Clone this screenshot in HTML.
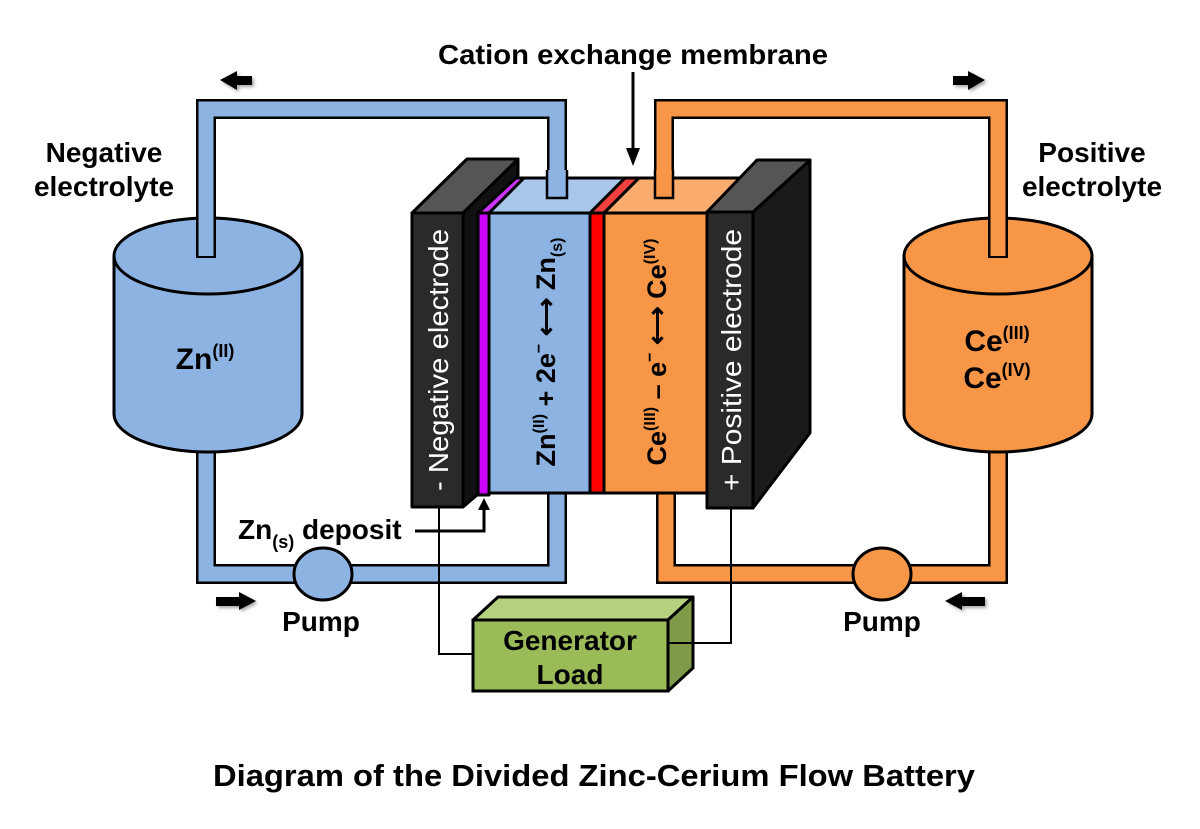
<!DOCTYPE html>
<html><head><meta charset="utf-8"><style>
html,body{margin:0;padding:0;background:#fff;}
svg{display:block;}
text{font-family:"Liberation Sans",sans-serif;}
</style></head><body>
<svg width="1200" height="829" viewBox="0 0 1200 829" xmlns="http://www.w3.org/2000/svg">
<defs>
<filter id="sh" x="-20%" y="-20%" width="150%" height="150%"><feDropShadow dx="2" dy="2" stdDeviation="1.5" flood-opacity="0.35"/></filter>
</defs>
<rect width="1200" height="829" fill="#fff"/>

<g fill="none" stroke-linejoin="miter" stroke-linecap="butt">
<path d="M206 258 V109 H557 V198" stroke="#000" stroke-width="20"/>
<path d="M206 258 V109 H557 V198" stroke="#8db3e2" stroke-width="15"/>
<path d="M206 420 V574 H557 V490" stroke="#000" stroke-width="20"/>
<path d="M206 420 V574 H557 V490" stroke="#8db3e2" stroke-width="15"/>
<path d="M998 258 V109 H664 V198" stroke="#000" stroke-width="20"/>
<path d="M998 258 V109 H664 V198" stroke="#f79646" stroke-width="15"/>
<path d="M998 420 V574 H666 V490" stroke="#000" stroke-width="20"/>
<path d="M998 420 V574 H666 V490" stroke="#f79646" stroke-width="15"/>
</g>

<path d="M114 256 V414 A94 38 0 0 0 302 414 V256" fill="#8db3e2" stroke="#000" stroke-width="3"/>
<ellipse cx="208" cy="256" rx="94" ry="38" fill="#8db3e2" stroke="#000" stroke-width="3"/>
<path d="M206 218 V258" stroke="#000" stroke-width="20"/>
<path d="M206 216 V256" stroke="#8db3e2" stroke-width="15"/>
<path d="M904 256 V414 A94 38 0 0 0 1092 414 V256" fill="#f79646" stroke="#000" stroke-width="3"/>
<ellipse cx="998" cy="256" rx="94" ry="38" fill="#f79646" stroke="#000" stroke-width="3"/>
<path d="M998 218 V258" stroke="#000" stroke-width="20"/>
<path d="M998 216 V256" stroke="#f79646" stroke-width="15"/>

<ellipse cx="323" cy="574" rx="29" ry="26" fill="#8db3e2" stroke="#000" stroke-width="3"/>
<ellipse cx="882" cy="574" rx="29" ry="26" fill="#f79646" stroke="#000" stroke-width="3"/>

<path d="M439 500 V654 H475" fill="none" stroke="#000" stroke-width="2"/>
<path d="M731 500 V643 H676" fill="none" stroke="#000" stroke-width="2"/>

<polygon points="473,620 498,597 693,597 668,620" fill="#b5d07f" stroke="#000" stroke-width="3" stroke-linejoin="round"/>
<polygon points="668,620 693,597 693,668 668,691" fill="#7f9a48" stroke="#000" stroke-width="3" stroke-linejoin="round"/>
<rect x="473" y="620" width="195" height="71" fill="#9bbb59" stroke="#000" stroke-width="3"/>
<line x1="668" y1="643" x2="693" y2="643" stroke="#000" stroke-width="2"/>
<text x="570" y="650" font-size="28" font-weight="bold" text-anchor="middle">Generator</text>
<text x="570" y="684" font-size="28" font-weight="bold" text-anchor="middle">Load</text>

<g stroke="#000" stroke-width="3" stroke-linejoin="round">
<polygon points="463,213 518,159 518,460 463,507" fill="#111"/>
<polygon points="412,213 463,213 518,159 467,159" fill="#555"/>
<rect x="412" y="213" width="51" height="294" fill="#2a2a2a"/>
<polygon points="478,213 489,213 527,178 516,178" fill="#cc33ff"/>
<rect x="478" y="213" width="11" height="282" fill="#cc00ff"/>
<polygon points="489,213 590,213 625,178 524,178" fill="#a8c6ea"/>
<rect x="489" y="213" width="101" height="280" fill="#8db3e2"/>
<polygon points="590,213 604,213 639,178 625,178" fill="#f04040"/>
<rect x="590" y="213" width="14" height="280" fill="#ff0000"/>
<polygon points="604,213 707,213 742,178 639,178" fill="#f9ac6e"/>
<rect x="604" y="213" width="103" height="280" fill="#f79646"/>
<polygon points="753,212 810,160 810,433 753,508" fill="#1a1a1a"/>
<polygon points="707,212 753,212 810,160 757,160" fill="#555"/>
<rect x="707" y="212" width="46" height="296" fill="#2a2a2a"/>
</g>
<rect x="548" y="170" width="18" height="28" fill="#8db3e2"/>
<path d="M547 170 V198 H567 V170" fill="none" stroke="#000" stroke-width="2.5"/>
<rect x="655" y="170" width="18" height="28" fill="#f79646"/>
<path d="M655 170 V198 H673 V170" fill="none" stroke="#000" stroke-width="2.5"/>

<text transform="translate(448,360) rotate(-90)" font-size="28" fill="#fff" text-anchor="middle" textLength="262" lengthAdjust="spacingAndGlyphs">- Negative electrode</text>
<text transform="translate(741,360) rotate(-90)" font-size="28" fill="#fff" text-anchor="middle" textLength="262" lengthAdjust="spacingAndGlyphs">+ Positive electrode</text>
<text transform="translate(555,352) rotate(-90)" font-size="27" font-weight="bold" text-anchor="middle">Zn<tspan font-size="16" dy="-11">(II)</tspan><tspan dy="11"> + 2e</tspan><tspan font-size="16" dy="-11">−</tspan><tspan dy="11"> ⟷ Zn</tspan><tspan font-size="16" dy="7">(s)</tspan></text>
<text transform="translate(666,352) rotate(-90)" font-size="27" font-weight="bold" text-anchor="middle">Ce<tspan font-size="16" dy="-11">(III)</tspan><tspan dy="11"> – e</tspan><tspan font-size="16" dy="-11">−</tspan><tspan dy="11"> ⟷ Ce</tspan><tspan font-size="16" dy="-11">(IV)</tspan></text>

<path d="M415 531 H484 V508" fill="none" stroke="#000" stroke-width="3"/>
<polygon points="478,510 490,510 484,498" fill="#000"/>

<line x1="633" y1="72" x2="633" y2="150" stroke="#000" stroke-width="3"/>
<polygon points="626,148 640,148 633,166" fill="#000"/>

<g fill="#000" filter="url(#sh)">
<polygon points="220,80 237,71 237,76 252,76 252,85 237,85 237,90"/>
<polygon points="985,80 968,71 968,76 953,76 953,85 968,85 968,90"/>
<polygon points="256,601 239,592 239,597 216,597 216,606 239,606 239,610"/>
<polygon points="945,601 962,592 962,597 985,597 985,606 962,606 962,610"/>
</g>

<g font-size="28" font-weight="bold" text-anchor="middle">
<text x="633" y="64" textLength="390" lengthAdjust="spacingAndGlyphs">Cation exchange membrane</text>
<text x="104" y="162">Negative</text>
<text x="104" y="196">electrolyte</text>
<text x="1092" y="162">Positive</text>
<text x="1092" y="196">electrolyte</text>
<text x="321" y="631">Pump</text>
<text x="882" y="631">Pump</text>
</g>
<text x="205" y="369" font-size="30" font-weight="bold" text-anchor="middle">Zn<tspan font-size="18" dy="-12">(II)</tspan></text>
<text x="997" y="351" font-size="30" font-weight="bold" text-anchor="middle">Ce<tspan font-size="18" dy="-12">(III)</tspan></text>
<text x="997" y="388" font-size="30" font-weight="bold" text-anchor="middle">Ce<tspan font-size="18" dy="-12">(IV)</tspan></text>
<text x="238" y="539" font-size="28" font-weight="bold">Zn<tspan font-size="18" dy="9">(s)</tspan><tspan dy="-9"> deposit</tspan></text>

<text x="594" y="786" font-size="31" font-weight="bold" text-anchor="middle" textLength="762" lengthAdjust="spacingAndGlyphs">Diagram of the Divided Zinc-Cerium Flow Battery</text>
</svg>
</body></html>
